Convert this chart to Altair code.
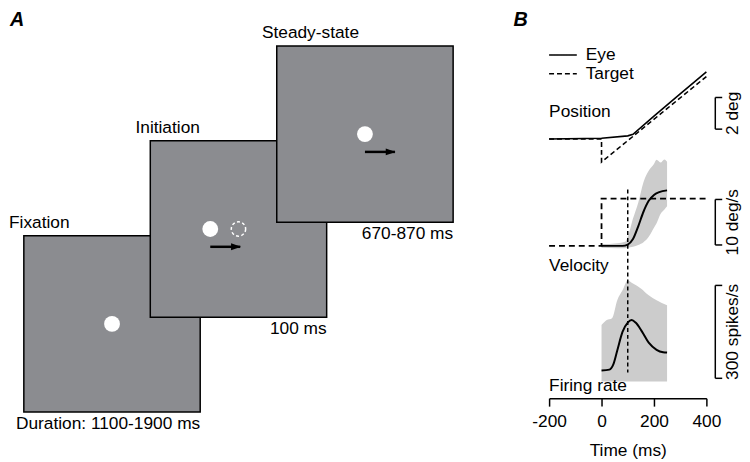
import altair as alt
import pandas as pd

FONT = "Liberation Sans"
FS = 17.5

# ---------------- Panel A: task schematic ----------------
stages = ["Fixation", "Initiation", "Steady-state"]
durations = ["Duration: 1100-1900 ms", "100 ms", "670-870 ms"]
target_offsets = [0.0, -0.16, 0.0]      # target spot relative to screen centre (screen widths)
target_moving = [False, True, True]
ghost_target = [False, True, False]

# ---------------- Panel B: example traces ----------------
pos_time = [-200, 0, 100, 120, 200, 300, 400]
eye_position = [0.0, 0.05, 0.2, 0.3, 1.45, 2.85, 4.25]
target_pos_time = [-200, 0, 0, 400]
target_position = [0.0, 0.0, -1.45, 3.95]

vel_time = [0, 80, 100, 120, 140, 160, 180, 200, 220, 250]
eye_velocity = [0.0, 0.0, 0.3, 1.5, 4.3, 7.5, 9.9, 11.2, 11.8, 12.2]
target_vel_time = [-200, 0, 0, 400]
target_velocity = [0.0, 0.0, 10.4, 10.4]
vel_band_time = [0, 60, 90, 100, 120, 140, 160, 180, 200, 210, 225, 240, 250]
vel_band_low = [-0.4, -0.5, -0.5, -0.4, -0.2, 0.2, 0.8, 2.0, 4.0, 5.0, 7.0, 8.0, 8.7]
vel_band_high = [0.4, 0.6, 0.9, 2.0, 6.0, 9.5, 14.0, 16.5, 18.0, 18.9, 18.3, 19.0, 18.5]

fr_time = [0, 30, 45, 60, 80, 100, 115, 130, 155, 180, 210, 235, 250]
firing_rate = [35, 38, 55, 100, 160, 190, 198, 190, 160, 125, 102, 94, 93]
fr_band_time = [0, 20, 40, 60, 80, 100, 120, 150, 180, 210, 250]
fr_band_low = [0, 0, 0, 0, 0, 0, 0, 0, 0, 0, 0]
fr_band_high = [182, 198, 204, 262, 294, 326, 316, 300, 278, 262, 246]

onset_time = [100]
time_ticks = [-200, 0, 200, 400]

bar_labels = ["2 deg", "10 deg/s", "300 spikes/s"]
bar_low = [0.625, 0.2, 10]
bar_high = [2.625, 10.2, 310]
panel_names = ["Position", "Velocity", "Firing rate"]
legend_names = ["Eye", "Target"]

# ---------------- layout constants ----------------
S = 178.3                 # px per screen width in panel A
A_W, A_H = 525, 441
B_W, B_H = 159, 391
STEP_X, STEP_Y = 0.717, 0.538
XA_DOM = [-14 / S, (A_W - 14) / S]
YA_DOM = [-36 / S, 405 / S]

POS_DOM = [-16.375, 8.0625]
VEL_DOM = [-33.478, 51.522]
FR_DOM = [-54.31, 1194.89]


def xa(f):
    return alt.X(f, type="quantitative", scale=alt.Scale(domain=XA_DOM, nice=False, zero=False), axis=None)


def ya(f):
    return alt.Y(f, type="quantitative", scale=alt.Scale(domain=YA_DOM, nice=False, zero=False), axis=None)


screens = pd.DataFrame({
    "stage": stages,
    "duration": durations,
    "idx": list(range(len(stages))),
    "offset": target_offsets,
    "moving": target_moving,
    "ghost": ghost_target,
})
screens["x0"] = screens.idx * STEP_X
screens["x1"] = screens.x0 + 1
screens["y0"] = screens.idx * STEP_Y
screens["y1"] = screens.y0 + 1
screens["cx"] = screens.x0 + 0.5 + screens.offset
screens["cy"] = screens.y0 + 0.5
screens["gx"] = screens.x0 + 0.5
screens["ax1"] = screens.cx + 0.170
screens["ay"] = screens.cy - 0.101
screens["hx"] = screens.cx + 0.174 - 0.028

base = alt.Chart(screens)
rects = base.mark_rect(fill="#8b8c90", stroke="black", strokeWidth=1.5).encode(
    x=xa("x0"), x2="x1", y=ya("y0"), y2="y1")
stage_txt = base.mark_text(align="left", baseline="middle", dx=-15, dy=-13, fontSize=FS,
                           color="black", font=FONT).encode(x=xa("x0"), y=ya("y1"), text="stage")
dur_txt = base.mark_text(align="right", baseline="middle", dy=12, fontSize=FS,
                         color="black", font=FONT).encode(x=xa("x1"), y=ya("y0"), text="duration")
dots = base.mark_circle(size=256, color="white", opacity=1).encode(x=xa("cx"), y=ya("cy"))
ghost = base.transform_filter("datum.ghost").mark_point(
    shape="circle", filled=False, color="white", strokeWidth=1.5, strokeDash=[3, 2.4],
    size=210, opacity=1).encode(x=xa("gx"), y=ya("cy"))
shaft = base.transform_filter("datum.moving").mark_rule(color="black", strokeWidth=2.5).encode(
    x=xa("cx"), x2="ax1", y=ya("ay"))
head = base.transform_filter("datum.moving").mark_point(
    shape="M-1,-0.7L1,0L-1,0.7Z", filled=True, color="black", size=100, opacity=1).encode(
    x=xa("hx"), y=ya("ay"))

letters = pd.DataFrame({"letter": ["A", "B"], "px": [0, 509]})
letter_txt = alt.Chart(letters).mark_text(
    align="left", baseline="alphabetic", fontSize=20, fontWeight="bold", fontStyle="italic",
    color="black", font=FONT).encode(x=alt.X("px:Q", scale=None), y=alt.value(15), text="letter")

panel_a = alt.layer(rects, stage_txt, dur_txt, dots, ghost, shaft, head, letter_txt).properties(
    width=A_W, height=A_H)

# ---------------- Panel B ----------------
X = alt.X("t:Q", scale=alt.Scale(domain=[-200, 400], nice=False, zero=False),
          axis=alt.Axis(values=time_ticks, title="Time (ms)", labelFlush=False, tickSize=8,
                        domainColor="black", tickColor="black", domainWidth=1.5, tickWidth=1.5,
                        labelFontSize=FS, titleFontSize=FS, titleFontWeight="normal",
                        labelColor="black", titleColor="black", labelPadding=7, titlePadding=11,
                        grid=False, labelExpr="'' + datum.value", labelFont=FONT, titleFont=FONT))


def yax(f, dom):
    return alt.Y(f, type="quantitative", scale=alt.Scale(domain=dom, nice=False, zero=False), axis=None)


layers = []

vb = pd.DataFrame({"t": vel_band_time, "lo": vel_band_low, "hi": vel_band_high})
layers.append(alt.Chart(vb).mark_area(color="#cccccc", opacity=1, interpolate="monotone").encode(
    x=X, y=yax("lo", VEL_DOM), y2="hi"))
fb = pd.DataFrame({"t": fr_band_time, "lo": fr_band_low, "hi": fr_band_high})
layers.append(alt.Chart(fb).mark_area(color="#cccccc", opacity=1, interpolate="monotone").encode(
    x=X, y=yax("lo", FR_DOM), y2="hi"))

tp = pd.DataFrame({"t": target_pos_time, "v": target_position, "i": range(len(target_pos_time))})
layers.append(alt.Chart(tp).mark_line(color="black", strokeWidth=1.6, strokeDash=[5, 3]).encode(
    x=X, y=yax("v", POS_DOM), order="i:Q"))
ep = pd.DataFrame({"t": pos_time, "v": eye_position})
layers.append(alt.Chart(ep).mark_line(color="black", strokeWidth=1.6).encode(x=X, y=yax("v", POS_DOM)))

tv = pd.DataFrame({"t": target_vel_time, "v": target_velocity, "i": range(len(target_vel_time))})
layers.append(alt.Chart(tv).mark_line(color="black", strokeWidth=1.8, strokeDash=[6, 4]).encode(
    x=X, y=yax("v", VEL_DOM), order="i:Q"))

on = pd.DataFrame({"t": onset_time})
layers.append(alt.Chart(on).mark_rule(color="black", strokeWidth=1.5, strokeDash=[4, 3]).encode(
    x=X, y=alt.value(180), y2=alt.value(365)))

ev = pd.DataFrame({"t": vel_time, "v": eye_velocity})
layers.append(alt.Chart(ev).mark_line(color="black", strokeWidth=2, interpolate="monotone").encode(
    x=X, y=yax("v", VEL_DOM)))
fr = pd.DataFrame({"t": fr_time, "v": firing_rate})
layers.append(alt.Chart(fr).mark_line(color="black", strokeWidth=2, interpolate="monotone").encode(
    x=X, y=yax("v", FR_DOM)))

# legend
leg_y = [44, 63]
for name, yy, dash in zip(legend_names, leg_y, [[1, 0], [5, 3]]):
    d = pd.DataFrame({"label": [name]})
    layers.append(alt.Chart(d).mark_rule(color="black", strokeWidth=1.6, strokeDash=dash).encode(
        x=alt.value(0), x2=alt.value(28), y=alt.value(yy)))
    layers.append(alt.Chart(d).mark_text(align="left", baseline="middle", fontSize=FS, color="black",
                                         font=FONT).encode(x=alt.value(37), y=alt.value(yy), text="label"))

# panel names
for name, yy in zip(panel_names, [102, 257, 379]):
    d = pd.DataFrame({"label": [name]})
    layers.append(alt.Chart(d).mark_text(align="left", baseline="middle", fontSize=FS, color="black",
                                         font=FONT).encode(x=alt.value(0), y=alt.value(yy), text="label"))

# scale bars
for lab, lo, hi, dom in zip(bar_labels, bar_low, bar_high, [POS_DOM, VEL_DOM, FR_DOM]):
    d = pd.DataFrame({"lo": [lo], "hi": [hi], "mid": [(lo + hi) / 2], "label": [lab]})
    dl = pd.DataFrame({"v": [lo, hi]})
    layers.append(alt.Chart(d).mark_rule(color="black", strokeWidth=1.5).encode(
        x=alt.value(168), y=yax("lo", dom), y2="hi"))
    layers.append(alt.Chart(dl).mark_rule(color="black", strokeWidth=1.5).encode(
        x=alt.value(168), x2=alt.value(175), y=yax("v", dom)))
    layers.append(alt.Chart(d).mark_text(angle=270, align="center", baseline="middle", fontSize=FS,
                                         color="black", font=FONT).encode(
        x=alt.value(186), y=yax("mid", dom), text="label"))

panel_b = alt.layer(*layers).resolve_scale(y="independent").properties(width=B_W, height=B_H)

chart = alt.hconcat(panel_a, panel_b, spacing=2).properties(padding=0).configure(
    font=FONT).configure_view(strokeWidth=0)

chart.save("out.html", embed_options={"renderer": "svg", "actions": False})
